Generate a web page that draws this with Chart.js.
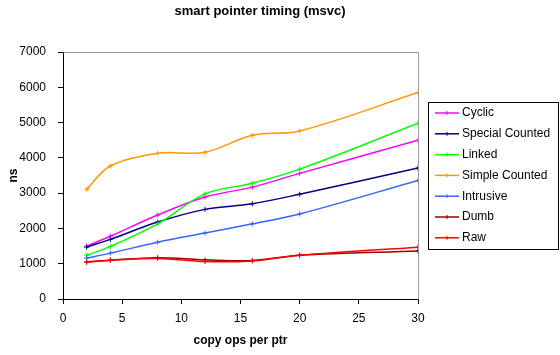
<!DOCTYPE html>
<html>
<head>
<meta charset="utf-8">
<script src="https://cdn.jsdelivr.net/npm/chart.js@4/dist/chart.umd.min.js"></script>
<style>
  html, body { margin: 0; padding: 0; background: #fff; }
  canvas { display: block; }
</style>
</head>
<body>
<canvas id="c" width="560" height="355"></canvas>
<script>
const chartTitle = 'smart pointer timing (msvc)';
const xTitle = 'copy ops per ptr';
const yTitle = 'ns';
const xValues = [2, 4, 8, 12, 16, 20, 30];
const seriesNames = ['Cyclic', 'Special Counted', 'Linked', 'Simple Counted', 'Intrusive', 'Dumb', 'Raw'];
const cyclic = [1500, 1780, 2380, 2890, 3170, 3560, 4500];
const specialCounted = [1470, 1690, 2180, 2540, 2700, 2970, 3710];
const linked = [1240, 1490, 2130, 2980, 3280, 3680, 4980];
const simpleCounted = [3110, 3770, 4130, 4160, 4640, 4760, 5850];
const intrusive = [1160, 1300, 1610, 1870, 2130, 2410, 3360];
const dumb = [1050, 1100, 1170, 1110, 1090, 1240, 1360];
const raw = [1040, 1100, 1150, 1060, 1080, 1240, 1470];
const seriesColors = ['#FF00FF', '#000080', '#00FF00', '#FF9900', '#3366FF', '#990000', '#FF0000'];

const seriesValues = [cyclic, specialCounted, linked, simpleCounted, intrusive, dumb, raw];
const FONT = '"Liberation Sans", Arial, sans-serif';
Chart.defaults.color = '#000';
Chart.defaults.font.family = FONT;
Chart.defaults.font.size = 12;

const datasets = seriesNames.map((name, i) => ({
  label: name,
  data: xValues.map((x, j) => ({ x: x, y: seriesValues[i][j] })),
  borderColor: seriesColors[i],
  backgroundColor: seriesColors[i],
  borderWidth: 1.5,
  pointStyle: 'cross',
  pointRadius: 2.5,
  pointBorderWidth: 1,
  pointHoverRadius: 2.5,
  tension: 0.35,
  fill: false,
  order: seriesNames.length - i
}));

const decor = {
  id: 'decor',
  afterDraw(chart) {
    const ctx = chart.ctx;
    const a = chart.chartArea;
    ctx.save();
    // gray top/right frame
    ctx.strokeStyle = '#999999';
    ctx.lineWidth = 1;
    ctx.beginPath();
    ctx.moveTo(Math.round(a.left) + 0.5, Math.round(a.top) + 0.5);
    ctx.lineTo(Math.round(a.right) + 0.5, Math.round(a.top) + 0.5);
    ctx.lineTo(Math.round(a.right) + 0.5, Math.round(a.bottom) + 0.5);
    ctx.stroke();
    // title
    ctx.fillStyle = '#000';
    ctx.font = 'bold 13px ' + FONT;
    ctx.textAlign = 'center';
    ctx.textBaseline = 'middle';
    ctx.fillText(chartTitle, 260, 11);
    // legend
    const lx = 428.5, ly = 102.5, lw = 130, lh = 147;
    ctx.strokeStyle = '#000';
    ctx.strokeRect(lx, ly, lw, lh);
    ctx.font = '12px ' + FONT;
    ctx.textAlign = 'left';
    chart.data.datasets.forEach((ds, i) => {
      const y = 113 + i * 20.8;
      ctx.strokeStyle = ds.borderColor;
      ctx.lineWidth = 1.5;
      ctx.beginPath();
      ctx.moveTo(435, y);
      ctx.lineTo(459, y);
      ctx.stroke();
      ctx.lineWidth = 1;
      ctx.beginPath();
      ctx.moveTo(447, y - 2);
      ctx.lineTo(447, y + 2);
      ctx.stroke();
      ctx.fillStyle = '#000';
      ctx.fillText(ds.label, 462, y);
    });
    ctx.restore();
  }
};

new Chart(document.getElementById('c'), {
  type: 'line',
  data: { datasets: datasets },
  options: {
    responsive: false,
    animation: false,
    devicePixelRatio: 1,
    layout: { padding: { top: 52, right: 142, left: 0, bottom: 0 } },
    plugins: {
      legend: { display: false },
      title: { display: false },
      tooltip: { enabled: false }
    },
    scales: {
      x: {
        type: 'linear',
        min: 0, max: 30,
        ticks: { stepSize: 5, padding: 7, maxRotation: 0, font: { size: 12 }, callback: v => String(v) },
        grid: { drawOnChartArea: false, drawTicks: true, tickLength: 5, color: '#000' },
        border: { display: true, color: '#000', width: 1 },
        title: { display: true, text: xTitle, font: { size: 12, weight: 'bold' }, padding: { top: 0, bottom: 7 } },
        afterFit(s) { s.height = 56; }
      },
      y: {
        min: 0, max: 7000,
        ticks: { stepSize: 1000, padding: 12, font: { size: 12 }, callback: v => String(v) },
        grid: { drawOnChartArea: false, drawTicks: true, tickLength: 5, color: '#000' },
        border: { display: true, color: '#000', width: 1 },
        title: { display: true, text: yTitle, font: { size: 12, weight: 'bold' }, padding: { top: 6, bottom: 0 } },
        afterFit(s) { s.width = 63; }
      }
    }
  },
  plugins: [decor]
});
</script>
</body>
</html>
